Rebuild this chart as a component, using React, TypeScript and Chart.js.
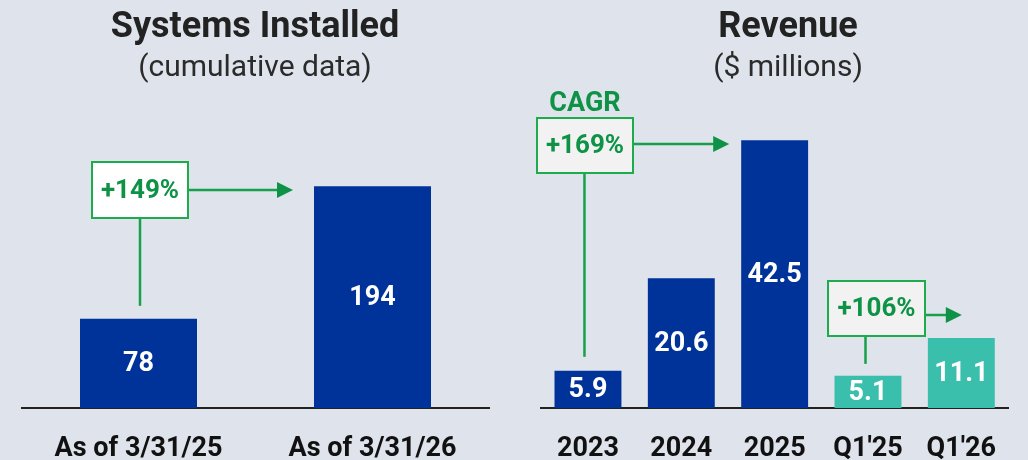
import React, { useEffect, useRef } from "react";
import { Chart, registerables } from "chart.js";

Chart.register(...registerables);

// ---- data ----
const systemsLabels = ["As of 3/31/25", "As of 3/31/26"];
const systemsValues = [78, 194];
const systemsGrowth = "+149%";

const revenueLabels = ["2023", "2024", "2025", "Q1'25", "Q1'26"];
const revenueValues = [5.9, 20.6, 42.5, 5.1, 11.1];
const revenuePeriodKinds = ["annual", "annual", "annual", "quarter", "quarter"];
const revenueCagrLabel = "CAGR";
const revenueCagr = "+169%";
const revenueQuarterGrowth = "+106%";

// ---- styles ----
const BG = "#dee3ec";
const BLUE = "#003399";
const TEAL = "#3bbfad";
const GREEN_BORDER = "#1eab4c";
const GREEN_TEXT = "#0e9346";
const GREEN_LINE = "#17a04a";
const FONT = "Roboto, 'Liberation Sans', sans-serif";

type Callout = {
  box: [number, number, number, number];
  fill: string;
  text: string;
  lineX: number;
  lineBottom: number;
  arrowY: number;
  arrowTip: number;
};

function drawCallout(ctx: CanvasRenderingContext2D, c: Callout) {
  const [bx, by, bw, bh] = c.box;
  ctx.save();
  ctx.strokeStyle = GREEN_LINE;
  ctx.lineWidth = 2.5;
  ctx.beginPath();
  ctx.moveTo(c.lineX, by + bh);
  ctx.lineTo(c.lineX, c.lineBottom);
  ctx.stroke();
  ctx.beginPath();
  ctx.moveTo(bx + bw, c.arrowY);
  ctx.lineTo(c.arrowTip - 12, c.arrowY);
  ctx.stroke();
  ctx.fillStyle = GREEN_TEXT;
  ctx.beginPath();
  ctx.moveTo(c.arrowTip, c.arrowY);
  ctx.lineTo(c.arrowTip - 16, c.arrowY - 8);
  ctx.lineTo(c.arrowTip - 16, c.arrowY + 8);
  ctx.closePath();
  ctx.fill();
  ctx.fillStyle = c.fill;
  ctx.fillRect(bx, by, bw, bh);
  ctx.strokeStyle = GREEN_BORDER;
  ctx.lineWidth = 2;
  ctx.strokeRect(bx, by, bw, bh);
  ctx.fillStyle = GREEN_TEXT;
  ctx.font = `bold 26px ${FONT}`;
  ctx.textAlign = "center";
  ctx.textBaseline = "middle";
  ctx.fillText(c.text, bx + bw / 2, by + bh / 2 + 1);
  ctx.restore();
}

function drawTitles(ctx: CanvasRenderingContext2D, x: number, title: string, sub: string) {
  ctx.save();
  ctx.textAlign = "center";
  ctx.textBaseline = "alphabetic";
  ctx.fillStyle = "#222222";
  ctx.font = `bold 36px ${FONT}`;
  ctx.fillText(title, x, 37);
  ctx.fillStyle = "#2b2b2b";
  ctx.font = `400 30px ${FONT}`;
  ctx.fillText(sub, x, 76);
  ctx.restore();
}

function drawValueLabels(chart: any, values: number[], fmt: (v: number) => string) {
  const ctx = chart.ctx as CanvasRenderingContext2D;
  const meta = chart.getDatasetMeta(0);
  ctx.save();
  ctx.fillStyle = "#ffffff";
  ctx.font = `bold 27px ${FONT}`;
  ctx.textAlign = "center";
  ctx.textBaseline = "middle";
  meta.data.forEach((bar: any, i: number) => {
    ctx.fillText(fmt(values[i]), bar.x, (bar.y + bar.base) / 2 + 1);
  });
  ctx.restore();
}

function baseOptions(pad: { left: number; right: number; top: number }, max: number): any {
  return {
    responsive: false,
    animation: false,
    events: [],
    layout: { padding: { left: pad.left, right: pad.right, top: pad.top, bottom: 0 } },
    plugins: { legend: { display: false }, tooltip: { enabled: false }, title: { display: false } },
    scales: {
      x: {
        offset: true,
        grid: { display: false, drawTicks: false },
        border: { display: true, color: "#222222", width: 2 },
        ticks: {
          color: "#111111",
          font: { family: FONT, size: 27, weight: "bold" },
          padding: 25,
          maxRotation: 0,
          autoSkip: false,
        },
        afterFit: (scale: any) => {
          scale.height = 52;
        },
      },
      y: { display: false, min: 0, max },
    },
  };
}

function SystemsChart() {
  const ref = useRef<HTMLCanvasElement>(null);
  useEffect(() => {
    const chart = new Chart(ref.current as HTMLCanvasElement, {
      type: "bar",
      data: {
        labels: systemsLabels,
        datasets: [
          {
            data: systemsValues,
            backgroundColor: BLUE,
            borderWidth: 0,
            barPercentage: 1,
            categoryPercentage: 0.5,
          },
        ],
      },
      options: baseOptions({ left: 21.5, right: 24.5, top: 65 }, 300),
      plugins: [
        {
          id: "sysDecor",
          afterDatasetsDraw(c: any) {
            const ctx = c.ctx as CanvasRenderingContext2D;
            drawTitles(ctx, 255, "Systems Installed", "(cumulative data)");
            drawValueLabels(c, systemsValues, (v) => String(v));
            const bars = c.getDatasetMeta(0).data;
            const b0 = bars[0];
            const b1 = bars[1];
            drawCallout(ctx, {
              box: [92, 162, 96, 56],
              fill: "#ffffff",
              text: systemsGrowth,
              lineX: b0.x + 1.5,
              lineBottom: b0.y - 13,
              arrowY: 190,
              arrowTip: b1.x - b1.width / 2 - 21,
            });
          },
        },
      ],
    } as any);
    return () => chart.destroy();
  }, []);
  return <canvas ref={ref} width={514} height={460} style={{ position: "absolute", left: 0, top: 0 }} />;
}

function RevenueChart() {
  const ref = useRef<HTMLCanvasElement>(null);
  useEffect(() => {
    const chart = new Chart(ref.current as HTMLCanvasElement, {
      type: "bar",
      data: {
        labels: revenueLabels,
        datasets: [
          {
            data: revenueValues,
            backgroundColor: revenuePeriodKinds.map((k) => (k === "annual" ? BLUE : TEAL)),
            borderWidth: 0,
            barPercentage: 1,
            categoryPercentage: 0.717,
          },
        ],
      },
      options: baseOptions({ left: 27.3, right: 20, top: 93 }, 50),
      plugins: [
        {
          id: "revDecor",
          afterDatasetsDraw(c: any) {
            const ctx = c.ctx as CanvasRenderingContext2D;
            drawTitles(ctx, 274, "Revenue", "($ millions)");
            drawValueLabels(c, revenueValues, (v) => v.toFixed(1));
            const bars = c.getDatasetMeta(0).data;
            ctx.save();
            ctx.fillStyle = GREEN_TEXT;
            ctx.font = `bold 27px ${FONT}`;
            ctx.textAlign = "center";
            ctx.textBaseline = "alphabetic";
            ctx.fillText(revenueCagrLabel, 71, 111);
            ctx.restore();
            drawCallout(ctx, {
              box: [23, 118, 96, 55],
              fill: "#f2f2f2",
              text: revenueCagr,
              lineX: bars[0].x - 3.5,
              lineBottom: bars[0].y - 14,
              arrowY: 144,
              arrowTip: bars[2].x - bars[2].width / 2 - 12,
            });
            drawCallout(ctx, {
              box: [314, 281, 97, 55],
              fill: "#f2f2f2",
              text: revenueQuarterGrowth,
              lineX: bars[3].x - 2.5,
              lineBottom: bars[3].y - 12,
              arrowY: 315,
              arrowTip: bars[4].x + 0.5,
            });
          },
        },
      ],
    } as any);
    return () => chart.destroy();
  }, []);
  return <canvas ref={ref} width={514} height={460} style={{ position: "absolute", left: 514, top: 0 }} />;
}

export default function App() {
  return (
    <div
      style={{
        position: "fixed",
        left: 0,
        top: 0,
        width: 1028,
        height: 460,
        background: BG,
        overflow: "hidden",
      }}
    >
      <SystemsChart />
      <RevenueChart />
    </div>
  );
}
